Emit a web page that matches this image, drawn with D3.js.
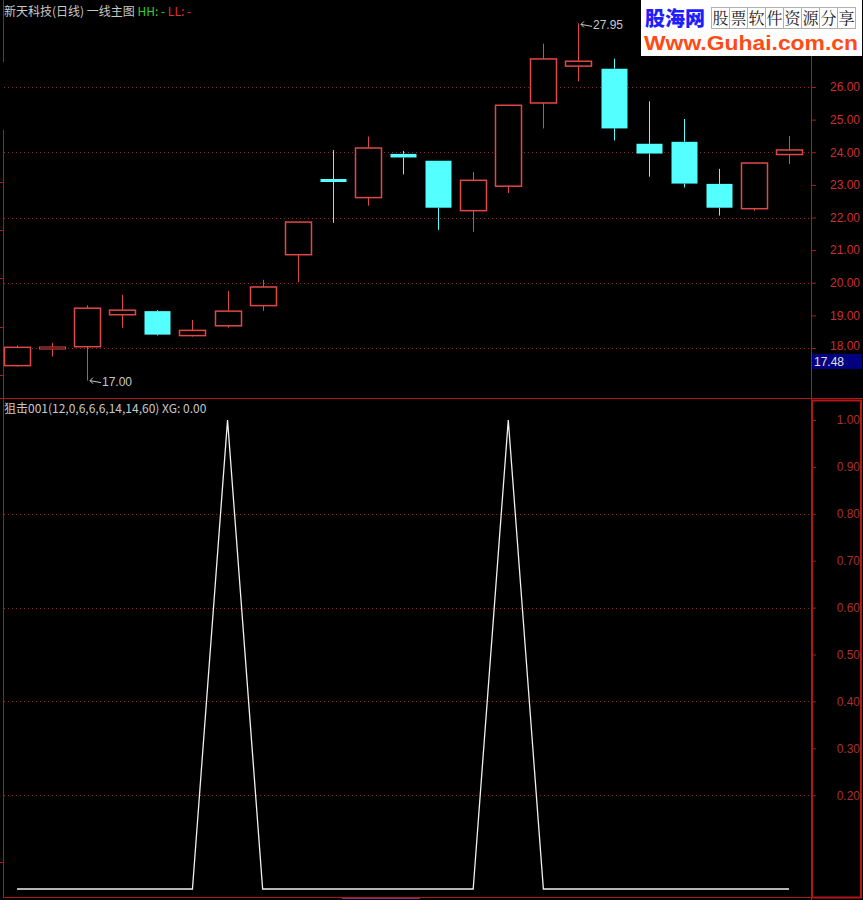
<!DOCTYPE html>
<html><head><meta charset="utf-8">
<script src="https://cdn.jsdelivr.net/npm/d3@7/dist/d3.min.js"></script>
<style>html,body{margin:0;padding:0;background:#000;}svg{display:block;}</style>
</head><body>
<script>
// ---- data ----
const days = d3.range(1, 24);
const opens  = [17.46,18.03,18.04,19.02,19.13,18.38,18.68,19.30,20.86,23.18,22.61,23.95,23.74,22.21,22.96,25.51,26.64,26.56,24.26,24.32,23.03,22.27,23.93];
const closes = [18.02,18.03,19.22,19.16,18.41,18.54,19.13,19.87,21.86,23.09,24.13,23.84,22.30,23.14,25.44,26.86,26.79,24.73,23.96,23.04,22.30,23.67,24.07];
const highs  = [18.08,18.16,19.31,19.63,19.16,18.86,19.75,20.09,21.86,24.07,24.48,24.04,23.74,23.39,25.44,27.33,27.95,26.87,25.56,25.02,23.49,23.67,24.50];
const lows   = [17.43,17.74,17.00,18.62,18.38,18.35,18.62,19.14,20.02,21.84,22.36,23.32,21.62,21.56,22.75,24.73,26.17,24.36,23.25,22.92,22.06,22.21,23.64];
const xg     = [0,0,0,0,0,0,1,0,0,0,0,0,0,0,1,0,0,0,0,0,0,0,0];
const priceTicks = [18,19,20,21,22,23,24,25,26];
const priceGrid = [18,20,22,24,26];
const xgTicks = [0.2,0.3,0.4,0.5,0.6,0.7,0.8,0.9,1.0];
const xgGrid = [0.2,0.4,0.6,0.8];
const title = "新天科技(日线) 一线主图";
const indTitle = "狙击001(12,0,6,6,6,14,14,60) XG: 0.00";
const hiLabel = "27.95", loLabel = "17.00", curLabel = "17.48", curVal = 17.48;

const W = 863, H = 900;
const RED = "#e04848", CYAN = "#54ffff", AX = "#b01818", GRID = "#8a2a2a", TXT = "#c8c8c8";
const svg = d3.select("body").append("svg").attr("width", W).attr("height", H).style("background", "#000");

const x = d3.scalePoint().domain(days).range([17, 789]);
const y = d3.scaleLinear().domain([18, 26]).range([348, 87]);
const y2 = d3.scaleLinear().domain([0, 1]).range([889, 420]);
const bodyW = 26;

// gridlines
svg.append("g").selectAll("line").data(priceGrid).join("line")
  .attr("x1", 4).attr("x2", 812).attr("y1", d => Math.round(y(d)) + 0.5).attr("y2", d => Math.round(y(d)) + 0.5)
  .attr("stroke", GRID).attr("stroke-dasharray", "1,3");
svg.append("g").selectAll("line").data(xgGrid).join("line")
  .attr("x1", 4).attr("x2", 812).attr("y1", d => Math.round(y2(d)) + 0.5).attr("y2", d => Math.round(y2(d)) + 0.5)
  .attr("stroke", GRID).attr("stroke-dasharray", "1,3");

// frame lines
const frame = svg.append("g").attr("stroke", AX).attr("fill", "none");
frame.append("line").attr("x1", 3.5).attr("x2", 3.5).attr("y1", 0).attr("y2", 62);
frame.append("line").attr("x1", 3.5).attr("x2", 3.5).attr("y1", 130).attr("y2", 898);
frame.append("line").attr("x1", 811.5).attr("x2", 811.5).attr("y1", 0).attr("y2", 900);
frame.append("line").attr("x1", 0).attr("x2", W).attr("y1", 398.5).attr("y2", 398.5);
frame.append("line").attr("x1", 3).attr("x2", 862).attr("y1", 897.5).attr("y2", 897.5);
frame.append("rect").attr("x", 812).attr("y", 400.5).attr("width", 49).attr("height", 497).attr("stroke-width", 2);
svg.append("line").attr("x1", 342).attr("x2", 420).attr("y1", 898.5).attr("y2", 898.5).attr("stroke", "#803080");
// left small ticks
frame.selectAll(".lt").data([182, 230, 278, 327, 375]).join("line")
  .attr("x1", 0).attr("x2", 3).attr("y1", d => d + 0.5).attr("y2", d => d + 0.5);
frame.append("line").attr("x1", 0).attr("x2", 3).attr("y1", 862.5).attr("y2", 862.5);

// right axes
const ax1 = svg.append("g").attr("transform", "translate(812,0)")
  .call(d3.axisRight(y).tickValues(priceTicks).tickFormat(d3.format(".2f")).tickSize(4).tickPadding(14));
const ax2 = svg.append("g").attr("transform", "translate(812,0)")
  .call(d3.axisRight(y2).tickValues(xgTicks).tickFormat(d3.format(".2f")).tickSize(4).tickPadding(20));
[ax1, ax2].forEach(a => {
  a.select(".domain").remove();
  a.selectAll(".tick line").attr("stroke", AX);
  a.selectAll(".tick text").attr("fill", a === ax1 ? "#c83030" : "#a83030")
    .attr("font-family", "Liberation Sans, Arial, sans-serif").attr("font-size", 12)
    .attr("text-anchor", "end").attr("x", 48);
});
// 18.00 label sits slightly higher so the value box beneath does not cover it
ax1.selectAll(".tick").filter(d => d === 18).select("text").attr("dy", "0.1em");

// candles
const cg = svg.append("g");
days.forEach((d, i) => {
  const up = closes[i] >= opens[i];
  const col = up ? RED : CYAN;
  const cx = Math.round(x(d)) + 0.5;
  const top = y(Math.max(opens[i], closes[i])), bot = y(Math.min(opens[i], closes[i]));
  cg.append("line").attr("x1", cx).attr("x2", cx).attr("y1", y(highs[i])).attr("y2", top).attr("stroke", col);
  cg.append("line").attr("x1", cx).attr("x2", cx).attr("y1", bot).attr("y2", y(lows[i])).attr("stroke", col);
  const h = Math.max(bot - top, 2);
  if (up) {
    cg.append("rect").attr("x", cx - bodyW / 2).attr("y", top).attr("width", bodyW).attr("height", h)
      .attr("fill", "#000").attr("stroke", col).attr("stroke-width", h <= 2 ? 1 : 1.5);
  } else {
    cg.append("rect").attr("x", cx - bodyW / 2).attr("y", top).attr("width", bodyW).attr("height", Math.max(bot - top, 3))
      .attr("fill", col);
  }
});

// high / low markers
function marker(idx, val, label, dy) {
  const px = Math.round(x(days[idx])) + 1, py = y(val) + dy;
  const g = svg.append("g").attr("stroke", TXT).attr("fill", "none");
  g.append("path").attr("d", `M${px + 2},${py} L${px + 13},${py + 2} M${px + 2},${py} L${px + 5},${py - 3} M${px + 2},${py} L${px + 5},${py + 3}`);
  svg.append("text").attr("x", px + 14).attr("y", py + 5).text(label)
    .attr("fill", TXT).attr("font-family", "Liberation Sans, Arial, sans-serif").attr("font-size", 12);
}
marker(16, highs[16], hiLabel, 1);
marker(2, lows[2], loLabel, 0);

// current value box
svg.append("rect").attr("x", 812).attr("y", y(curVal) - 11).attr("width", 50).attr("height", 15).attr("fill", "#000080");
svg.append("text").attr("x", 814).attr("y", y(curVal) + 1).text(curLabel).attr("fill", "#e0e0e0")
  .attr("font-family", "Liberation Sans, Arial, sans-serif").attr("font-size", 12);

// XG line
svg.append("path").datum(days).attr("fill", "none").attr("stroke", "#f0f0f0").attr("stroke-width", 1.3)
  .attr("d", d3.line().x(d => x(d)).y((d, i) => y2(xg[i])));

// titles
const t1 = svg.append("text").attr("x", 4).attr("y", 16).attr("font-family", "Noto Sans CJK SC, sans-serif").attr("font-size", 12);
t1.append("tspan").attr("fill", TXT).text(title + " ");
t1.append("tspan").attr("fill", "#30d030").text(" HH: -");
t1.append("tspan").attr("fill", "#e03030").text("  LL: -");
svg.append("text").attr("x", 4).attr("y", 413).attr("font-family", "Noto Sans CJK SC, sans-serif").attr("font-size", 12)
  .attr("fill", TXT).text(indTitle);

// watermark logo
const lg = svg.append("g");
lg.append("rect").attr("x", 641).attr("y", 0).attr("width", 221).attr("height", 56).attr("fill", "#ffffff");
lg.append("text").attr("x", 645).attr("y", 26).text("股海网").attr("fill", "#1e1eff")
  .attr("font-family", "Noto Sans CJK SC, sans-serif").attr("font-weight", 900).attr("font-size", 20);
const sub = "股票软件资源分享".split("");
sub.forEach((c, i) => {
  lg.append("rect").attr("x", 711.5 + i * 18).attr("y", 7.5).attr("width", 18).attr("height", 21)
    .attr("fill", "none").attr("stroke", "#b0b0b0");
  lg.append("text").attr("x", 720.5 + i * 18).attr("y", 24).attr("text-anchor", "middle").text(c)
    .attr("fill", "#202020").attr("font-family", "Noto Serif CJK SC, Noto Sans CJK SC, serif").attr("font-size", 16);
});
lg.append("text").attr("x", 644).attr("y", 50).text("Www.Guhai.com.cn").attr("fill", "#ff4a14")
  .attr("font-family", "Liberation Sans, Arial, sans-serif").attr("font-weight", "bold").attr("font-size", 20.5)
  .attr("textLength", 214).attr("lengthAdjust", "spacingAndGlyphs");
</script>
</body></html>
